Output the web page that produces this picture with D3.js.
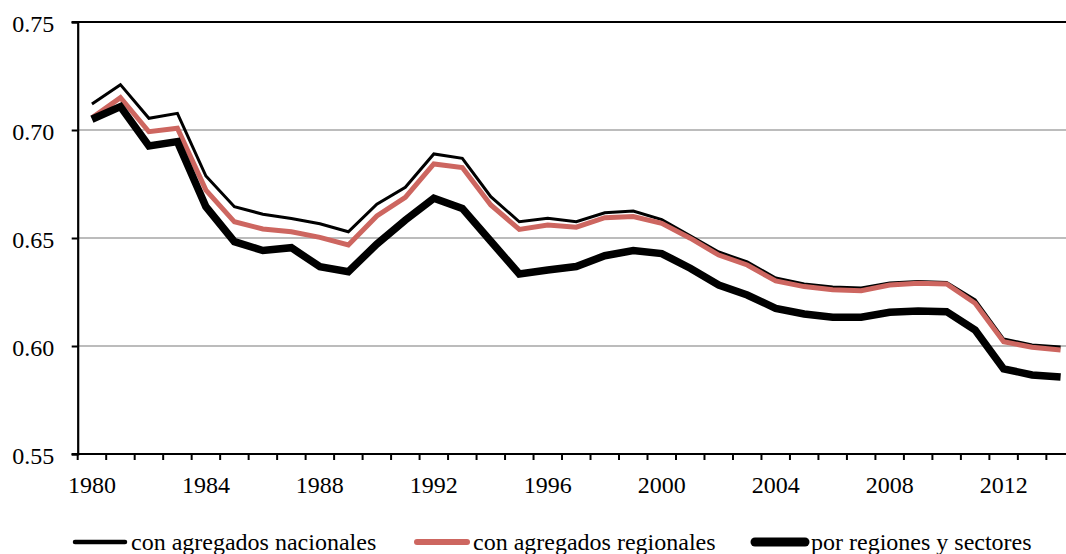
<!DOCTYPE html>
<html>
<head>
<meta charset="utf-8">
<script src="https://cdn.jsdelivr.net/npm/d3@7"></script>
<style>
  html, body { margin: 0; padding: 0; background: #fff; }
  svg { display: block; font-family: "Liberation Serif", "DejaVu Serif", serif; }
</style>
</head>
<body>
<svg id="chart" width="1066" height="554"></svg>
<script>
// ── Data ──────────────────────────────────────────────────────────────────
const years = d3.range(1980, 2015);
const nacionales = [
  0.712, 0.721, 0.7054, 0.7077, 0.6787, 0.6645, 0.661, 0.659, 0.6566, 0.6529,
  0.6657, 0.6735, 0.6889, 0.6869, 0.6691, 0.6575, 0.6591, 0.6575, 0.6617, 0.6625,
  0.6585, 0.651, 0.6435, 0.6389, 0.6315, 0.6287, 0.6273, 0.6269, 0.6292, 0.6299,
  0.6294, 0.6213, 0.6032, 0.6005, 0.5995
];
const regionales = [
  0.7056, 0.715, 0.6992, 0.7008, 0.6722, 0.6575, 0.6542, 0.6529, 0.6503, 0.6468,
  0.6602, 0.6688, 0.6843, 0.6826, 0.6653, 0.654, 0.656, 0.655, 0.6594, 0.6599,
  0.6568, 0.6499, 0.6421, 0.6375, 0.6301, 0.6275, 0.626, 0.6256, 0.6282, 0.629,
  0.6287, 0.6198, 0.602, 0.5994, 0.5981
];
const sectores = [
  0.705, 0.7108, 0.6926, 0.6946, 0.6645, 0.6483, 0.6442, 0.6455, 0.6367, 0.6344,
  0.6472, 0.6583, 0.6684, 0.6637, 0.6485, 0.6333, 0.6352, 0.6368, 0.6418, 0.6442,
  0.6428, 0.636, 0.6282, 0.6236, 0.6174, 0.6148, 0.6133, 0.6133, 0.6156, 0.6162,
  0.6159, 0.6074, 0.5894, 0.5866, 0.5856
];
const yTicks = [0.55, 0.60, 0.65, 0.70, 0.75];
const xLabels = [1980, 1984, 1988, 1992, 1996, 2000, 2004, 2008, 2012];

const series = [
  { name: 'con agregados nacionales', values: nacionales, color: '#000000', width: 3,   legW: 4.5 },
  { name: 'con agregados regionales', values: regionales, color: '#cd6660', width: 5,   legW: 6 },
  { name: 'por regiones y sectores',  values: sectores,   color: '#000000', width: 7.5, legW: 9 },
];

// ── Scales ────────────────────────────────────────────────────────────────
const svg = d3.select('#chart');
const mLeft = 77.7, mTop = 22, mBottom = 454, step = 28.49;
const fs = 24;

const x = d3.scaleBand().domain(years).range([mLeft, mLeft + step * years.length]).padding(0);
const y = d3.scaleLinear().domain([0.55, 0.75]).range([mBottom, mTop]);
const cx = yr => x(yr) + x.bandwidth() / 2;

// ── Grid ──────────────────────────────────────────────────────────────────
svg.append('g').selectAll('line')
  .data(yTicks.filter(v => v > 0.55 && v < 0.75))
  .join('line')
  .attr('x1', mLeft).attr('x2', 1066)
  .attr('y1', d => y(d)).attr('y2', d => y(d))
  .attr('stroke', '#a6a6a6').attr('stroke-width', 1.6);

// top border
svg.append('line')
  .attr('x1', mLeft - 6).attr('x2', 1066)
  .attr('y1', y(0.75)).attr('y2', y(0.75))
  .attr('stroke', '#000').attr('stroke-width', 2);

// ── Axes ──────────────────────────────────────────────────────────────────
const yAxis = svg.append('g')
  .attr('transform', `translate(${mLeft},0)`)
  .call(d3.axisLeft(y).tickValues(yTicks).tickFormat(d3.format('.2f')).tickSize(6).tickPadding(17.5));
yAxis.select('.domain').attr('stroke-width', 2.2);
yAxis.selectAll('.tick line').attr('stroke-width', 2);
yAxis.selectAll('text').attr('font-size', fs).attr('fill', '#000').attr('dy', '0.4em')
  .attr('font-family', '"Liberation Serif", serif');

const xAxis = svg.append('g').attr('transform', `translate(0,${mBottom})`);
xAxis.append('line')
  .attr('x1', mLeft - 6).attr('x2', 1066).attr('y1', 0).attr('y2', 0)
  .attr('stroke', '#000').attr('stroke-width', 2.2);
xAxis.selectAll('line.tk')
  .data(d3.range(years.length + 1))
  .join('line').attr('class', 'tk')
  .attr('x1', i => mLeft + i * x.bandwidth()).attr('x2', i => mLeft + i * x.bandwidth())
  .attr('y1', 0).attr('y2', 6)
  .attr('stroke', '#000').attr('stroke-width', 2);
xAxis.selectAll('text')
  .data(xLabels)
  .join('text')
  .attr('x', d => cx(d)).attr('y', 39)
  .attr('text-anchor', 'middle')
  .attr('font-size', fs)
  .text(d => d);

// ── Lines ─────────────────────────────────────────────────────────────────
const line = d3.line().x((d, i) => cx(years[i])).y(d => y(d));
svg.append('g').selectAll('path')
  .data(series)
  .join('path')
  .attr('d', d => line(d.values))
  .attr('fill', 'none')
  .attr('stroke', d => d.color)
  .attr('stroke-width', d => d.width)
  .attr('stroke-linejoin', 'miter');

// ── Legend ────────────────────────────────────────────────────────────────
const legendX = [73, 415, 753];
const leg = svg.append('g').selectAll('g')
  .data(series)
  .join('g')
  .attr('transform', (d, i) => `translate(${legendX[i]},542)`);
leg.append('line')
  .attr('x1', 2).attr('x2', 52).attr('y1', 0).attr('y2', 0)
  .attr('stroke', d => d.color)
  .attr('stroke-width', d => d.legW)
  .attr('stroke-linecap', 'round');
leg.append('text')
  .attr('x', 58).attr('y', 8)
  .attr('font-size', fs)
  .text(d => d.name);
</script>
</body>
</html>
